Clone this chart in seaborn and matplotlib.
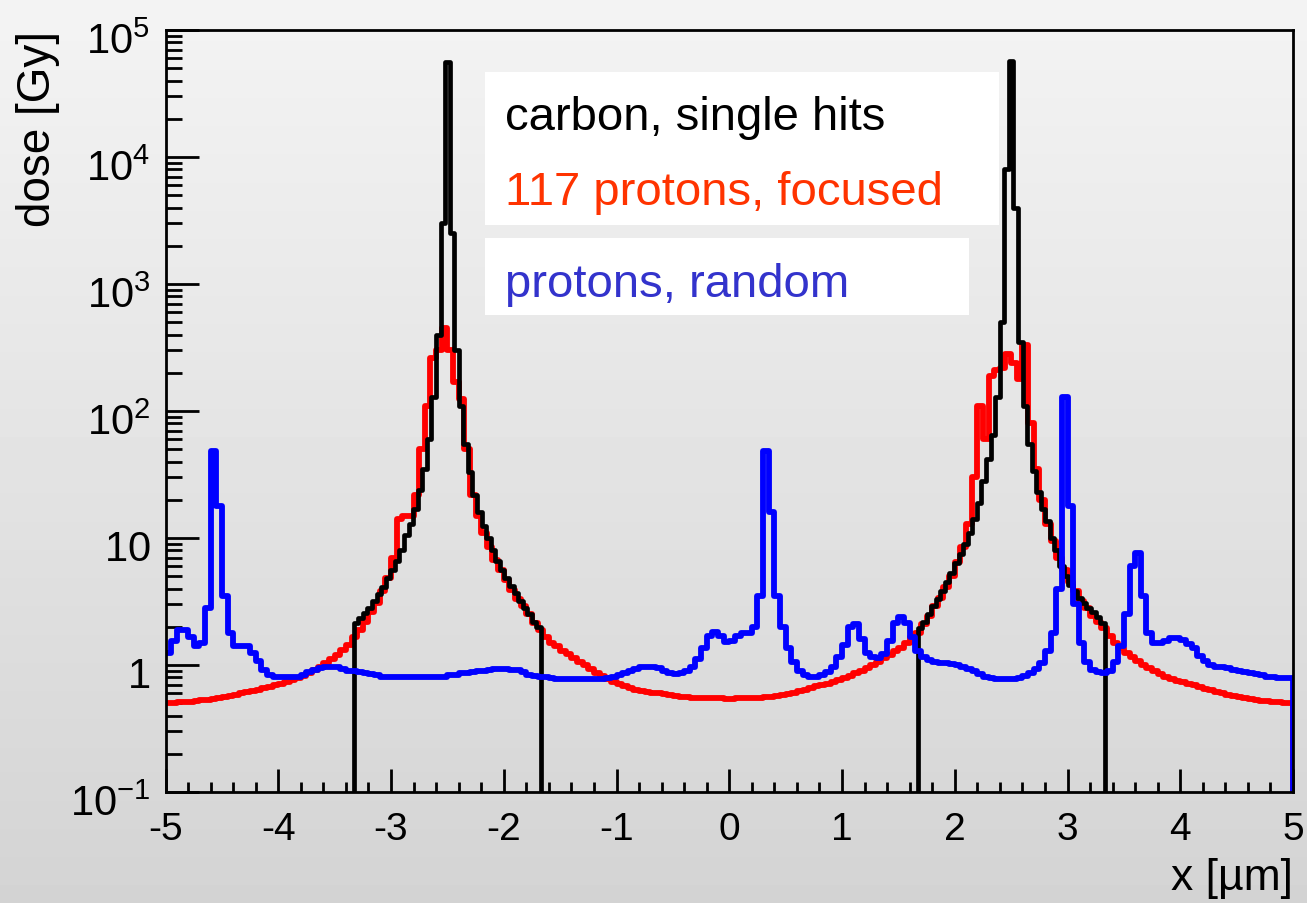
import numpy as np
import pandas as pd
import matplotlib
matplotlib.use("Agg")
import matplotlib.pyplot as plt
import matplotlib.transforms as mtransforms
from matplotlib.patches import Rectangle
from matplotlib.ticker import MultipleLocator, LogLocator, NullFormatter, FixedLocator, FixedFormatter
import seaborn as sns

# ---------------------------------------------------------------- data
# dose per 0.05 um bin, x from -5 to 5 (200 bins)
red_dose = [
    0.50, 0.50, 0.51, 0.51, 0.51, 0.52, 0.53, 0.53, 0.54, 0.55,
    0.56, 0.57, 0.58, 0.60, 0.61, 0.62, 0.64, 0.66, 0.67, 0.69,
    0.71, 0.74, 0.76, 0.79, 0.82, 0.86, 0.91, 0.97, 1.04, 1.12,
    1.20, 1.31, 1.45, 1.65, 1.90, 2.20, 2.60, 3.10, 3.80, 4.80,
    7.0, 14, 15, 15, 22, 50, 110, 260, 300, 450,
    300, 170, 125, 50, 22, 15, 11, 8.5, 6.7, 5.6,
    4.7, 3.9, 3.3, 2.9, 2.5, 2.15, 1.88, 1.65, 1.50, 1.40,
    1.30, 1.22, 1.14, 1.06, 1.00, 0.93, 0.87, 0.82, 0.78, 0.74,
    0.71, 0.68, 0.66, 0.64, 0.62, 0.61, 0.60, 0.60, 0.59, 0.58,
    0.57, 0.56, 0.56, 0.55, 0.55, 0.55, 0.55, 0.55, 0.55, 0.54,
    0.54, 0.55, 0.55, 0.55, 0.55, 0.55, 0.56, 0.56, 0.57, 0.58,
    0.59, 0.60, 0.62, 0.64, 0.66, 0.68, 0.69, 0.71, 0.73, 0.76,
    0.79, 0.82, 0.86, 0.90, 0.95, 1.00, 1.06, 1.13, 1.20, 1.28,
    1.37, 1.50, 1.65, 1.80, 2.10, 2.45, 2.90, 3.40, 4.10, 5.0,
    6.5, 8.5, 13, 30, 110, 60, 190, 210, 220, 280,
    240, 180, 330, 80, 35, 20, 13, 9.5, 7.0, 5.6,
    4.5, 3.8, 3.2, 2.8, 2.45, 2.2, 1.95, 1.7, 1.5, 1.36,
    1.25, 1.15, 1.07, 1.00, 0.94, 0.89, 0.85, 0.81, 0.78, 0.75,
    0.73, 0.71, 0.69, 0.67, 0.65, 0.63, 0.61, 0.60, 0.58, 0.57,
    0.56, 0.55, 0.54, 0.53, 0.52, 0.52, 0.51, 0.51, 0.50, 0.50,
]

blue_dose = [
    1.25, 1.55, 1.9, 1.9, 1.65, 1.42, 1.5, 2.8, 48, 18,
    3.5, 1.8, 1.42, 1.42, 1.40, 1.25, 1.08, 0.92, 0.84, 0.80,
    0.80, 0.80, 0.80, 0.81, 0.84, 0.88, 0.92, 0.95, 0.97, 0.97,
    0.96, 0.93, 0.90, 0.89, 0.88, 0.87, 0.85, 0.83, 0.81, 0.80,
    0.80, 0.80, 0.80, 0.80, 0.80, 0.80, 0.80, 0.80, 0.80, 0.81,
    0.83, 0.84, 0.86, 0.87, 0.88, 0.89, 0.90, 0.92, 0.93, 0.93,
    0.93, 0.92, 0.91, 0.88, 0.84, 0.82, 0.81, 0.80, 0.79, 0.78,
    0.78, 0.78, 0.78, 0.78, 0.78, 0.78, 0.78, 0.78, 0.79, 0.81,
    0.84, 0.87, 0.90, 0.93, 0.96, 0.97, 0.96, 0.95, 0.90, 0.87,
    0.85, 0.86, 0.89, 0.97, 1.12, 1.35, 1.68, 1.82, 1.68, 1.52,
    1.55, 1.70, 1.78, 1.80, 2.0, 3.5, 48, 16, 3.5, 2.0,
    1.35, 1.05, 0.90, 0.84, 0.80, 0.80, 0.84, 0.88, 0.97, 1.15,
    1.45, 2.0, 2.1, 1.6, 1.25, 1.15, 1.14, 1.22, 1.55, 2.15,
    2.4, 2.15, 1.65, 1.3, 1.15, 1.10, 1.05, 1.04, 1.03, 1.01,
    1.00, 0.97, 0.93, 0.90, 0.85, 0.81, 0.79, 0.78, 0.78, 0.78,
    0.78, 0.79, 0.82, 0.86, 0.93, 1.04, 1.3, 1.8, 4.0, 130,
    18, 3.0, 1.5, 1.05, 0.92, 0.88, 0.86, 0.90, 1.05, 1.4,
    2.5, 6.0, 7.6, 3.5, 1.8, 1.49, 1.49, 1.55, 1.63, 1.62,
    1.57, 1.47, 1.35, 1.18, 1.08, 1.00, 0.97, 0.96, 0.95, 0.92,
    0.90, 0.88, 0.86, 0.85, 0.83, 0.81, 0.80, 0.79, 0.79, 0.79,
]

# carbon single hits: dose inside the two tracks (41 bins each, |x -/+ 2.5| < 0.83)
black_left_dose = [
    2.15, 2.35, 2.55, 2.8, 3.2, 3.6, 4.1, 4.8, 5.6, 6.6,
    8.0, 10.5, 13, 17, 24, 35, 60, 130, 400, 3000,
    56000,
    2500, 300, 110, 55, 33, 22, 16, 12.5, 10, 8.0,
    6.6, 5.6, 4.8, 4.2, 3.7, 3.2, 2.8, 2.5, 2.2, 2.0,
]
black_right_dose = [
    1.95, 2.2, 2.5, 2.9, 3.3, 3.8, 4.5, 5.3, 6.3, 7.5,
    9.0, 11, 14, 19, 28, 42, 65, 130, 500, 8000,
    57000,
    4000, 350, 110, 55, 34, 23, 17, 13.5, 10, 8.0,
    6.0, 5.0, 4.3, 3.8, 3.4, 3.1, 2.8, 2.6, 2.4, 2.15,
]

track_left = (-3.33, -1.67)
track_right = (1.67, 3.33)

legend_lines = ["carbon, single hits", "117 protons, focused", "protons, random"]
y_tick_values = [1e-1, 1, 10, 1e2, 1e3, 1e4, 1e5]
y_tick_labels = [r"$\mathregular{10^{-1}}$", r"$\mathregular{1}$", r"$\mathregular{10}$",
                 r"$\mathregular{10^{2}}$", r"$\mathregular{10^{3}}$",
                 r"$\mathregular{10^{4}}$", r"$\mathregular{10^{5}}$"]
x_tick_values = [-5, -4, -3, -2, -1, 0, 1, 2, 3, 4, 5]

# ---------------------------------------------------------------- binning
uniform_edges = np.append(np.linspace(-5, 5, 201), 5.05)   # extra empty bin closes the step at x=5
uniform_centers = 0.5 * (uniform_edges[:200] + uniform_edges[1:201])

left_edges = np.linspace(*track_left, 42)
right_edges = np.linspace(*track_right, 42)
black_edges = np.concatenate([[-5.0], left_edges, right_edges, [5.0, 5.05]])
black_centers = np.concatenate([0.5 * (left_edges[:-1] + left_edges[1:]),
                                0.5 * (right_edges[:-1] + right_edges[1:])])
black_dose = black_left_dose + black_right_dose

red_df = pd.DataFrame({"x": uniform_centers, "dose": red_dose})
blue_df = pd.DataFrame({"x": uniform_centers, "dose": blue_dose})
black_df = pd.DataFrame({"x": black_centers, "dose": black_dose})

# ---------------------------------------------------------------- style
sns.set_style("ticks")
plt.rcParams["font.family"] = ["Liberation Sans", "DejaVu Sans"]
plt.rcParams["mathtext.fontset"] = "custom"
plt.rcParams["mathtext.rm"] = "Liberation Sans"
plt.rcParams["mathtext.it"] = "Liberation Sans:italic"
plt.rcParams["mathtext.default"] = "regular"
plt.rcParams["axes.unicode_minus"] = False
for key in ["text.color", "axes.labelcolor", "xtick.color", "ytick.color",
            "xtick.labelcolor", "ytick.labelcolor"]:
    plt.rcParams[key] = "black"

W, H = 1307, 904
fig = plt.figure(figsize=(W / 100, H / 100), dpi=100)

# grey vertical gradient behind everything
bg = fig.add_axes([0, 0, 1, 1], zorder=-10)
shade = np.linspace(0.955, 0.83, 256)[:, None]
bg.imshow(shade, aspect="auto", cmap="gray", vmin=0, vmax=1, extent=[0, 1, 0, 1])
bg.set_axis_off()

left, right, top, bottom = 165.5, 1293, 31, 793
ax = fig.add_axes([left / W, 1 - bottom / H, (right - left) / W, (bottom - top) / H], zorder=1)
ax.set_facecolor("none")

hist_kw = dict(x="x", weights="dose", element="step", fill=False, ax=ax)
sns.histplot(data=red_df, bins=list(uniform_edges), color="#ff0000", linewidth=4.2, **hist_kw)
sns.histplot(data=black_df, bins=list(black_edges), color="#000000", linewidth=3.4, **hist_kw)
sns.histplot(data=blue_df, bins=list(uniform_edges), color="#0000ff", linewidth=4.2, **hist_kw)

ax.set_yscale("log")
ax.set_xlim(-5, 5)
ax.set_ylim(1e-1, 1e5)

for side in ["top", "right", "bottom", "left"]:
    ax.spines[side].set_visible(True)
    ax.spines[side].set_linewidth(2.0)
    ax.spines[side].set_color("black")

ax.xaxis.set_major_locator(FixedLocator(x_tick_values))
ax.xaxis.set_major_formatter(FixedFormatter([str(v) for v in x_tick_values]))
ax.xaxis.set_minor_locator(MultipleLocator(0.2))
ax.yaxis.set_major_locator(FixedLocator(y_tick_values))
ax.yaxis.set_major_formatter(FixedFormatter(y_tick_labels))
ax.yaxis.set_minor_locator(LogLocator(base=10, subs=np.arange(2, 10)))
ax.yaxis.set_minor_formatter(NullFormatter())

ax.tick_params(axis="x", which="major", direction="in", length=16.5, width=2.0,
               labelsize=28, pad=14, top=False, color="black", labelcolor="black")
ax.tick_params(axis="x", which="minor", direction="in", length=7.2, width=2.0, top=False)
ax.tick_params(axis="y", which="major", direction="in", length=24, width=2.0,
               labelsize=30, pad=11, right=False, color="black", labelcolor="black")
ax.tick_params(axis="y", which="minor", direction="in", length=11.5, width=2.0, right=False)

ax.set_xlabel("x [\u00b5m]", fontsize=32, loc="right", color="black")
ax.xaxis.set_label_coords(1.0, -0.085)
ax.set_ylabel("dose [Gy]", fontsize=33, loc="top", color="black")
ax.yaxis.set_label_coords(-0.094, 1.0)

# nudge y tick labels slightly down
shift = mtransforms.ScaledTranslation(0, -7 / 100, fig.dpi_scale_trans)
for lab in ax.get_yticklabels():
    lab.set_transform(lab.get_transform() + shift)

# legend boxes and coloured entries
def fig_rect(x0, y0, x1, y1):
    fig.add_artist(Rectangle((x0 / W, 1 - y1 / H), (x1 - x0) / W, (y1 - y0) / H,
                             transform=fig.transFigure, facecolor="white",
                             edgecolor="none", zorder=5))

fig_rect(485, 73, 999, 226)
fig_rect(485, 239, 969, 316)
for text, color, base in zip(legend_lines, ["#000000", "#ff3300", "#3333cc"], [130, 205, 297]):
    fig.text(505 / W, 1 - base / H, text, fontsize=34, color=color, va="baseline",
             ha="left", zorder=6)

fig.savefig("out.png", dpi=100)
